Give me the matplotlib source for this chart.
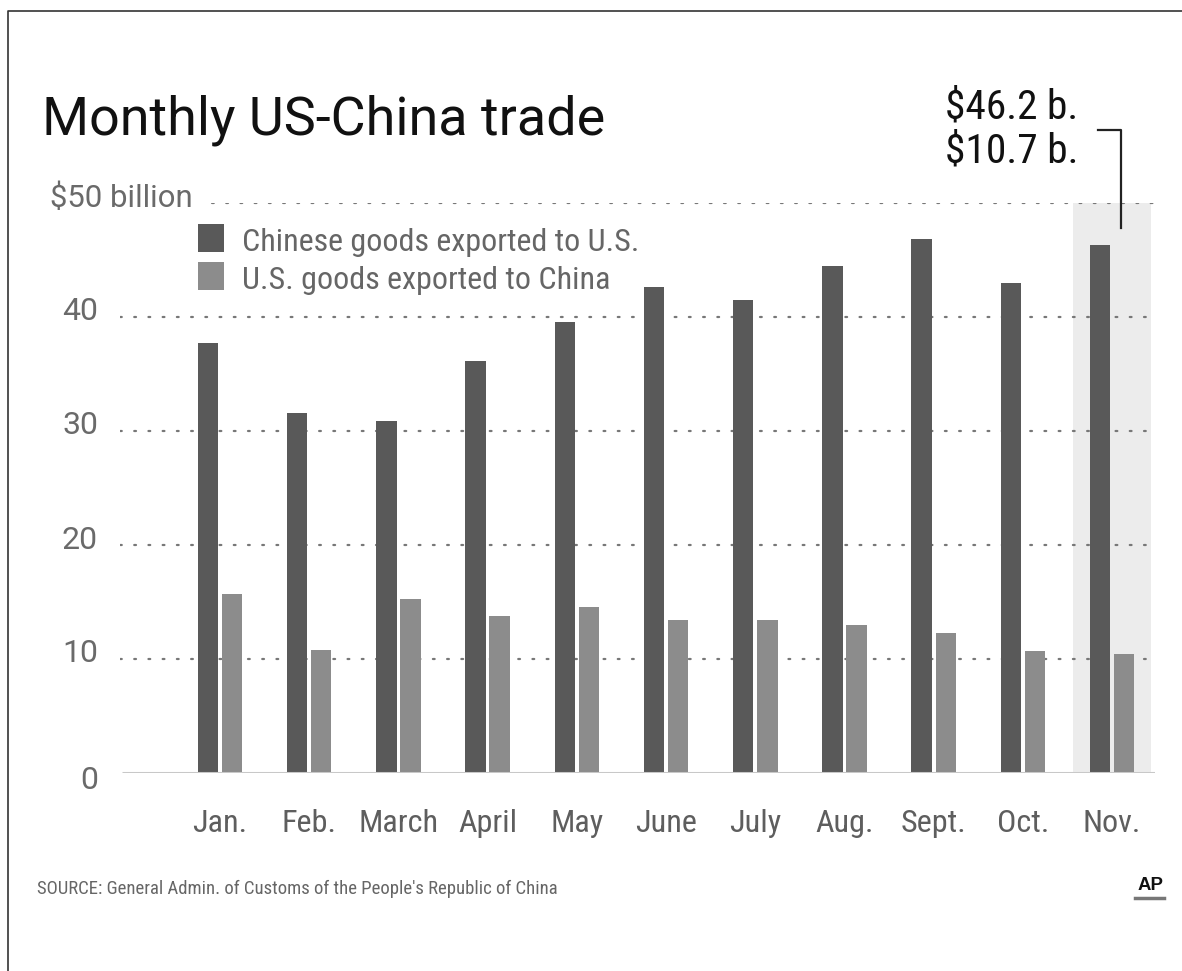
import matplotlib
matplotlib.use('Agg')
import matplotlib.pyplot as plt
from matplotlib import font_manager
from matplotlib.patches import Rectangle
from matplotlib.lines import Line2D

# ---------------- data ----------------
months = ['Jan.', 'Feb.', 'March', 'April', 'May', 'June', 'July', 'Aug.', 'Sept.', 'Oct.', 'Nov.']
china_to_us = [37.7, 31.6, 30.9, 36.1, 39.6, 42.6, 41.5, 44.5, 46.8, 43.0, 46.3]
us_to_china = [15.7, 10.8, 15.3, 13.8, 14.6, 13.4, 13.4, 13.0, 12.3, 10.7, 10.4]
y_ticks = [0, 10, 20, 30, 40, 50]
y_tick_labels = ['0', '10', '20', '30', '40', '$50 billion']
series_names = ['Chinese goods exported to U.S.', 'U.S. goods exported to China']
title = 'Monthly US-China trade'
source = "SOURCE: General Admin. of Customs of the People's Republic of China"
callout = ['$46.2 b.', '$10.7 b.']
highlight_idx = 10

# ---------------- fonts ----------------
names = {f.name for f in font_manager.fontManager.ttflist}
def pick(*cands):
    for c in cands:
        if c in names:
            return c
    return 'DejaVu Sans'
COND = pick('Liberation Sans Narrow', 'Roboto Condensed', 'Roboto')
DIN = pick('Roboto', 'Open Sans', 'DejaVu Sans')
HELV = pick('Liberation Sans', 'DejaVu Sans')

W, H = 1182, 971
fig = plt.figure(figsize=(W / 100, H / 100), dpi=100)
fig.patch.set_facecolor('white')

def fx(px):
    return px / W

def fy(py):
    return 1 - py / H

renderer = fig.canvas.get_renderer()

def fit(t, target_w):
    bb = t.get_window_extent(renderer)
    if bb.width > 0:
        t.set_fontsize(t.get_fontsize() * target_w / bb.width)
    return t

# axes: x 120..1155 px, y0 at 773 px, y50 at 203 px
ax_left, ax_right = 120, 1155
y0_px, y50_px = 773, 203
ax = fig.add_axes([fx(ax_left), fy(y0_px), fx(ax_right - ax_left), (y0_px - y50_px) / H])
ax.set_xlim(-1.12, 10.48)
ax.set_ylim(0, 50)
ax.axis('off')

dark = '#595959'
light = '#8c8c8c'
x = list(range(len(months)))
bw = 0.23
off = 0.135

# highlight band
ax.add_patch(Rectangle((highlight_idx - 0.435, 0), 0.87, 50, facecolor='#ececec',
                       edgecolor='none', zorder=0))

# gridlines
for v in y_ticks[1:]:
    xmin = -1.12 if v != 50 else (212 - 220) / 89.2
    ax.plot([xmin, 10.48], [v, v], color='#777777', lw=1.6,
            linestyle=(0, (0.8, 5.6)), dash_capstyle='round', zorder=1)
ax.plot([-1.1, 10.48], [0, 0], color='#c8c8c8', lw=2.2, zorder=3, solid_capstyle='butt')

ax.bar([i - off for i in x], china_to_us, width=bw, color=dark, zorder=2)
ax.bar([i + off for i in x], us_to_china, width=bw, color=light, zorder=2)

# y tick labels
for v, lab in zip(y_ticks, y_tick_labels):
    if v == 50:
        t = fig.text(fx(50), fy(y50_px - 5), lab, ha='left', va='center', color='#6a6a6a',
                     fontsize=23, family=DIN)
        fit(t, 143)
    else:
        py = y0_px - (y0_px - y50_px) * v / 50
        shift = 7 if v == 0 else -5
        fig.text(fx(98), fy(py + shift), lab, ha='right', va='center', color='#6a6a6a',
                 fontsize=23, family=DIN)

# month labels
probe = fig.text(0, 0, 'March', fontsize=25, family=COND)
fit(probe, 80)
msize = probe.get_fontsize()
probe.remove()
for i, m in enumerate(months):
    xpx = ax.transData.transform((i, 0))[0]
    fig.text(xpx / W, fy(823), m, ha='center', va='center', color='#5e5e5e',
             fontsize=msize, family=COND)

# legend
fig.add_artist(Rectangle((fx(198), fy(252)), fx(26), 28 / H, facecolor=dark,
                         edgecolor='none', transform=fig.transFigure))
fig.add_artist(Rectangle((fx(198), fy(290)), fx(26), 28 / H, facecolor=light,
                         edgecolor='none', transform=fig.transFigure))
t1 = fig.text(fx(242), fy(251), series_names[0], ha='left', va='baseline',
              color='#666666', fontsize=24, family=COND)
fit(t1, 397)
t2 = fig.text(fx(242), fy(289), series_names[1], ha='left', va='baseline',
              color='#666666', fontsize=t1.get_fontsize(), family=COND)

# title
tt = fig.text(fx(42), fy(135), title, ha='left', va='baseline', color='#111111',
              fontsize=42, family=DIN)
fit(tt, 563)

# callout
c1 = fig.text(fx(1012), fy(118), callout[0], ha='center', va='baseline', color='#111111',
              fontsize=30, family=COND)
fit(c1, 133)
fig.text(fx(1012), fy(162), callout[1], ha='center', va='baseline', color='#111111',
         fontsize=c1.get_fontsize(), family=COND)
fig.add_artist(Line2D([fx(1098), fx(1121), fx(1121)], [fy(130), fy(130), fy(228)],
                      color='#222222', lw=1.6, transform=fig.transFigure))

# source
s = fig.text(fx(37), fy(889), source, ha='left', va='center', color='#666666',
             fontsize=14, family=COND)
fit(s, 526)

# AP logo
ap = fig.text(fx(1150), fy(890), 'AP', ha='center', va='baseline', color='#111111',
              fontsize=16, family=HELV, weight='bold')
fit(ap, 26)
fig.add_artist(Line2D([fx(1135), fx(1164)], [fy(898), fy(898)], color='#777777', lw=2.5,
                      transform=fig.transFigure))

# frame (top and left)
fig.add_artist(Line2D([fx(8), fx(8), 1.0], [0.0, fy(11), fy(11)], color='#333333', lw=1.2,
                      transform=fig.transFigure))

fig.savefig('out.png', dpi=100, facecolor='white')
